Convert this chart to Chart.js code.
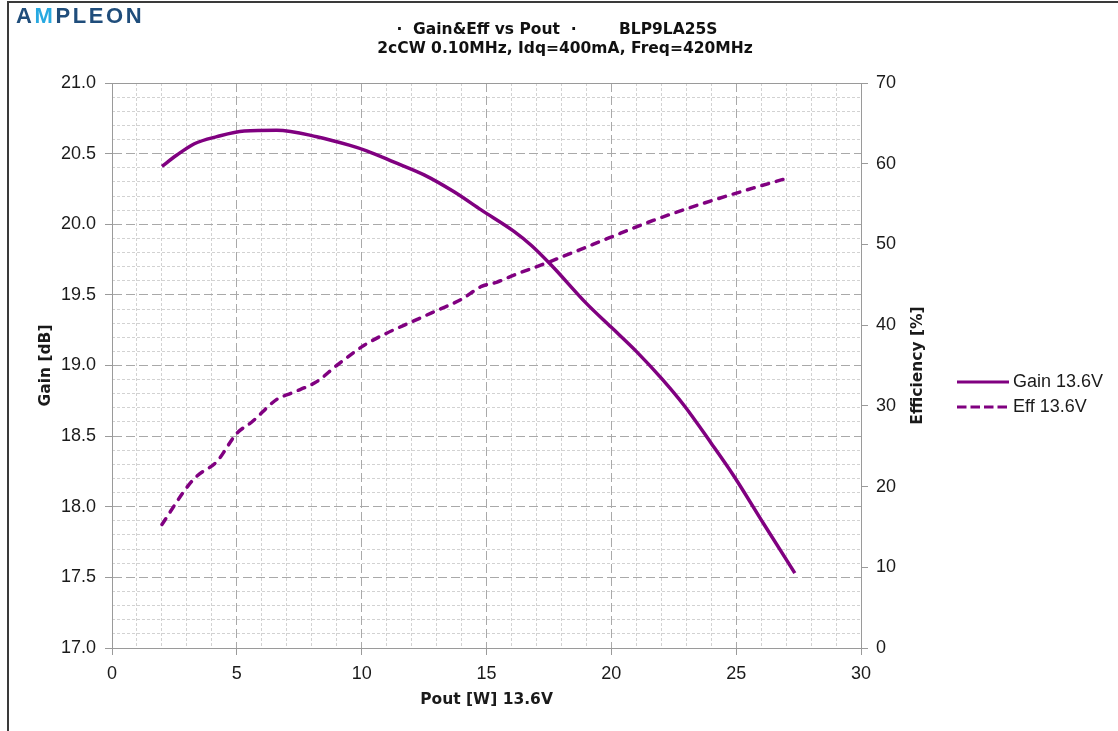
<!DOCTYPE html>
<html>
<head>
<meta charset="utf-8">
<title>Gain&Eff vs Pout - BLP9LA25S</title>
<script src="https://cdn.jsdelivr.net/npm/chart.js@4"></script>
<style>
    body { margin: 0; background: #fff; }
    .wrap { position: relative; width: 1118px; height: 731px; overflow: hidden; font-family: "Liberation Sans", Arial, sans-serif; }
    .frame { position: absolute; left: 7px; top: 1px; width: 1200px; height: 800px; border-left: 2px solid #3a3a3a; border-top: 2px solid #3a3a3a; }
    canvas { position: absolute; left: 0; top: 0; }
    .logo { position: absolute; left: 16px; top: 5px; font: bold 22px/22px "Liberation Sans", Arial, sans-serif; letter-spacing: 2.6px; color: #1f4d7b; }
    .logo span { color: #27a9e1; }
    .title { position: absolute; font: bold 15.5px/19px "DejaVu Sans", sans-serif; color: #111; white-space: pre; }
    .center { left: 0; width: 1130px; text-align: center; }
    .legend { position: absolute; left: 957px; top: 369px; font: 18px/25px "Liberation Sans", Arial, sans-serif; color: #1a1a1a; }
    .legend div { display: flex; align-items: center; height: 25px; }
    .legend svg { margin-right: 4px; }
</style>
</head>
<body>
<div class="wrap">
    <div class="frame"></div>
    <canvas id="chart" width="1118" height="731"></canvas>
    <div class="logo">A<span>M</span>PLEON</div>
    <div class="title" style="top:20px; left:0; width:973px; text-align:center">·  Gain&amp;Eff vs Pout  ·</div>
    <div class="title" style="top:20px; left:619px">BLP9LA25S</div>
    <div class="title center" style="top:39px">2cCW 0.10MHz, Idq=400mA, Freq=420MHz</div>
    <div class="legend" id="legend"></div>
</div>
<script>
// --- DATA ---
const poutGain = [2.0, 2.6, 3.3, 4.2, 5.3, 6.6, 8.2, 9.5, 10.2, 11.3, 12.5, 13.7, 14.8, 16.1, 16.8, 17.6, 19.0, 20.0, 21.0, 22.0, 22.9, 24.0, 24.9, 26.1, 27.35];
const gainDb   = [20.41, 20.49, 20.57, 20.62, 20.66, 20.665, 20.62, 20.56, 20.52, 20.44, 20.35, 20.23, 20.10, 19.95, 19.85, 19.71, 19.44, 19.27, 19.10, 18.91, 18.72, 18.45, 18.22, 17.88, 17.53];

const poutEff = [2.0, 3.0, 3.4, 4.2, 5.0, 5.6, 6.6, 7.2, 8.2, 9.0, 10.1, 11.0, 12.0, 13.0, 14.0, 14.8, 15.4, 16.1, 17.4, 18.7, 19.9, 21.7, 23.0, 24.1, 25.7, 27.15];
const effPct  = [15.3, 19.9, 21.3, 23.1, 26.6, 28.0, 30.8, 31.6, 33.0, 35.0, 37.5, 39.0, 40.4, 41.8, 43.2, 44.8, 45.3, 46.2, 47.7, 49.3, 50.8, 53.0, 54.4, 55.5, 57.0, 58.3];

const seriesLabels = ['Gain 13.6V', 'Eff 13.6V'];
const xTitle = 'Pout [W] 13.6V';
const gainTitle = 'Gain [dB]';
const effTitle = 'Efficiency [%]';

// --- CONFIG ---
const PURPLE = '#800080';
const MAJOR_GRID = '#a9a9a9';
const MINOR_GRID = '#d2d2d2';
const AXIS = '#9a9a9a';
const TEXT = '#1a1a1a';
const TICK_FONT = { family: '"Liberation Sans", Arial, sans-serif', size: 18 };
const TITLE_FONT = { family: '"DejaVu Sans", sans-serif', size: 15.5, weight: 'bold' };

const isMultiple = (v, step) => Math.abs(v / step - Math.round(v / step)) < 1e-6;

// right axis title reads bottom-to-top, so draw it here
const effTitlePlugin = {
    id: 'effTitle',
    afterDraw(chart) {
        const { ctx, chartArea } = chart;
        const sc = chart.scales.yEff;
        ctx.save();
        ctx.translate(sc.left + 57, (chartArea.top + chartArea.bottom) / 2);
        ctx.rotate(-Math.PI / 2);
        ctx.font = `bold ${TITLE_FONT.size}px ${TITLE_FONT.family}`;
        ctx.fillStyle = TEXT;
        ctx.textAlign = 'center';
        ctx.textBaseline = 'middle';
        ctx.fillText(effTitle, 0, 0);
        ctx.restore();
    }
};

new Chart(document.getElementById('chart'), {
    type: 'line',
    data: {
        datasets: [{
            label: seriesLabels[0],
            data: poutGain.map((x, i) => ({ x, y: gainDb[i] })),
            yAxisID: 'y',
            borderColor: PURPLE,
            borderWidth: 3.5
        }, {
            label: seriesLabels[1],
            data: poutEff.map((x, i) => ({ x, y: effPct[i] })),
            yAxisID: 'yEff',
            borderColor: PURPLE,
            borderWidth: 3.5,
            borderDash: [7, 8],
            borderCapStyle: 'round'
        }]
    },
    options: {
        responsive: false,
        animation: false,
        layout: { padding: { top: 83, left: 0, right: 197, bottom: 13 } },
        elements: {
            point: { radius: 0 },
            line: { cubicInterpolationMode: 'monotone', fill: false }
        },
        plugins: {
            legend: { display: false },
            tooltip: { enabled: false },
            title: { display: false }
        },
        scales: {
            xMinor: {
                type: 'linear', position: 'bottom', min: 0, max: 30,
                ticks: { display: false, stepSize: 1 },
                grid: { drawTicks: false, color: c => isMultiple(c.tick.value, 5) ? 'rgba(0,0,0,0)' : MINOR_GRID },
                border: { display: false, dash: [3, 2] },
                afterFit: s => { s.height = 0; }
            },
            yMinor: {
                type: 'linear', position: 'left', min: 17, max: 21,
                ticks: { display: false, stepSize: 0.1, maxTicksLimit: 100 },
                grid: { drawTicks: false, color: c => isMultiple(c.tick.value, 0.5) ? 'rgba(0,0,0,0)' : MINOR_GRID },
                border: { display: false, dash: [3, 2] },
                afterFit: s => { s.width = 0; }
            },
            xTop: {
                type: 'linear', position: 'top', min: 0, max: 30,
                ticks: { display: false },
                grid: { display: false },
                border: { color: AXIS },
                afterFit: s => { s.height = 0; }
            },
            x: {
                type: 'linear', position: 'bottom', min: 0, max: 30,
                ticks: { stepSize: 5, font: TICK_FONT, color: TEXT, padding: 8, maxRotation: 0 },
                grid: { color: MAJOR_GRID, tickColor: AXIS, tickLength: 7 },
                border: { color: AXIS, dash: [9, 4] },
                title: { display: true, text: xTitle, font: TITLE_FONT, color: TEXT, padding: { top: 0, bottom: 9 } },
                afterFit: s => { s.height = 70; }
            },
            y: {
                type: 'linear', position: 'left', min: 17, max: 21,
                ticks: { stepSize: 0.5, font: TICK_FONT, color: TEXT, padding: 9, callback: v => v.toFixed(1) },
                grid: { color: MAJOR_GRID, tickColor: AXIS, tickLength: 7 },
                border: { color: AXIS, dash: [9, 4] },
                title: { display: true, text: gainTitle, font: TITLE_FONT, color: TEXT, padding: { top: 37, bottom: 0 } },
                afterFit: s => { s.width = 112; }
            },
            yEff: {
                type: 'linear', position: 'right', min: 0, max: 70,
                ticks: { stepSize: 10, font: TICK_FONT, color: TEXT, padding: 8 },
                grid: { drawOnChartArea: false, tickColor: AXIS, tickLength: 7 },
                border: { color: AXIS },
                afterFit: s => { s.width = 60; }
            }
        }
    },
    plugins: [effTitlePlugin]
});

// Legend
const legend = document.getElementById('legend');
seriesLabels.forEach((label, i) => {
    const dash = i === 1 ? 'stroke-dasharray="9.5 4"' : '';
    const row = document.createElement('div');
    row.innerHTML = `<svg width="52" height="10"><line x1="0" y1="5" x2="52" y2="5" stroke="${PURPLE}" stroke-width="3" ${dash}/></svg><span>${label}</span>`;
    legend.appendChild(row);
});
</script>
</body>
</html>
